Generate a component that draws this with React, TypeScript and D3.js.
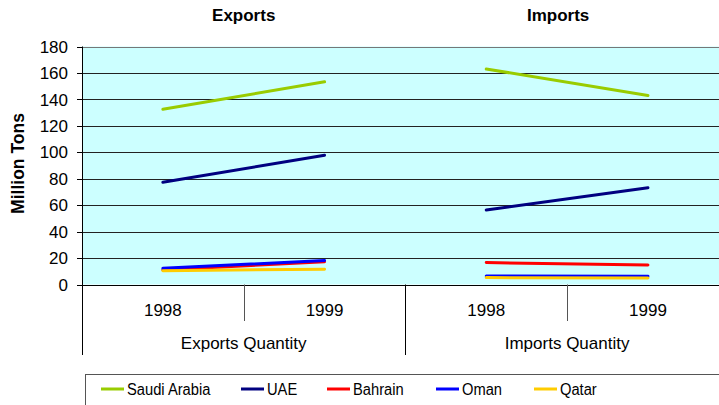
import React, { useEffect, useRef } from "react";
import * as d3 from "d3";

// categories along the x axis (group / year)
const groups = ["Exports Quantity", "Imports Quantity"];
const groupTitles = ["Exports", "Imports"];
const years = ["1998", "1999"];
const yTicks = [0, 20, 40, 60, 80, 100, 120, 140, 160, 180];

const seriesNames = ["Saudi Arabia", "UAE", "Bahrain", "Oman", "Qatar"];
const seriesColors = ["#99CC00", "#000080", "#FF0000", "#0000FF", "#FFCC00"];

// values: [exports 1998, exports 1999, imports 1998, imports 1999]
const saudiArabia = [132.5, 153.3, 163, 143];
const uae = [77.3, 97.8, 56.4, 73.2];
const bahrain = [11, 17.2, 16.6, 14.7];
const oman = [12.2, 18.2, 6.4, 6.2];
const qatar = [10.4, 11.6, 5.2, 5];

const seriesValues = [saudiArabia, uae, bahrain, oman, qatar];

const W = 719;
const H = 405;

const App = () => {
  const ref = useRef<SVGSVGElement>(null);

  useEffect(() => {
    const svg = d3.select(ref.current);
    svg.selectAll("*").remove();

    const font = "'Liberation Sans', Arial, sans-serif";
    const left = 82;
    const top = 46.5;
    const bottom = 284.5;
    const bandW = 161.7;

    const cats = groups.flatMap((g) => years.map((y) => g + "|" + y));
    const x = d3
      .scaleBand()
      .domain(cats)
      .range([left, left + bandW * cats.length]);
    const y = d3.scaleLinear().domain([0, 180]).range([bottom, top]);

    // plot background
    svg
      .append("rect")
      .attr("x", left)
      .attr("y", top)
      .attr("width", x.range()[1] - left)
      .attr("height", bottom - top)
      .attr("fill", "#CCFFFF");

    // gridlines
    svg
      .selectAll(".grid")
      .data(yTicks.filter((d) => d > 0))
      .enter()
      .append("line")
      .attr("x1", left)
      .attr("x2", x.range()[1])
      .attr("y1", (d) => Math.round(y(d)) + 0.5)
      .attr("y2", (d) => Math.round(y(d)) + 0.5)
      .attr("stroke", (d) => (d === 180 ? "#777" : "#222"))
      .attr("stroke-width", 1);

    // y axis
    svg
      .append("line")
      .attr("x1", left + 0.5)
      .attr("x2", left + 0.5)
      .attr("y1", top)
      .attr("y2", 355)
      .attr("stroke", "#000");
    svg
      .selectAll(".ytick")
      .data(yTicks)
      .enter()
      .append("line")
      .attr("x1", left - 5)
      .attr("x2", left)
      .attr("y1", (d) => Math.round(y(d)) + 0.5)
      .attr("y2", (d) => Math.round(y(d)) + 0.5)
      .attr("stroke", "#000");
    svg
      .selectAll(".ylab")
      .data(yTicks)
      .enter()
      .append("text")
      .attr("x", 68)
      .attr("y", (d) => y(d))
      .attr("dy", "0.36em")
      .attr("text-anchor", "end")
      .attr("font-family", font)
      .attr("font-size", 17)
      .attr("fill", "#000")
      .text((d) => d);

    svg
      .append("text")
      .attr("transform", `translate(24, ${(top + bottom) / 2 - 2}) rotate(-90)`)
      .attr("text-anchor", "middle")
      .attr("font-family", font)
      .attr("font-size", 17.5)
      .attr("font-weight", "bold")
      .text("Million Tons");

    // x axis
    svg
      .append("line")
      .attr("x1", left)
      .attr("x2", x.range()[1])
      .attr("y1", Math.round(bottom) + 0.5)
      .attr("y2", Math.round(bottom) + 0.5)
      .attr("stroke", "#000");

    cats.forEach((c, i) => {
      const x0 = x(c)!;
      if (i > 0) {
        const isGroup = i % years.length === 0;
        svg
          .append("line")
          .attr("x1", Math.round(x0) + 0.5)
          .attr("x2", Math.round(x0) + 0.5)
          .attr("y1", bottom)
          .attr("y2", isGroup ? 355 : 321)
          .attr("stroke", isGroup ? "#000" : "#555");
      }
      svg
        .append("text")
        .attr("x", x0 + x.bandwidth() / 2)
        .attr("y", 316)
        .attr("text-anchor", "middle")
        .attr("font-family", font)
        .attr("font-size", 17)
        .text(c.split("|")[1]);
    });

    groups.forEach((g, gi) => {
      const gx0 = x(g + "|" + years[0])!;
      const gx1 = x(g + "|" + years[years.length - 1])! + x.bandwidth();
      svg
        .append("text")
        .attr("x", (gx0 + gx1) / 2)
        .attr("y", 349)
        .attr("text-anchor", "middle")
        .attr("font-family", font)
        .attr("font-size", 17)
        .text(g);
      svg
        .append("text")
        .attr("x", gi === 0 ? (gx0 + gx1) / 2 : (gx0 + gx1) / 2 - 9)
        .attr("y", 21)
        .attr("text-anchor", "middle")
        .attr("font-family", font)
        .attr("font-size", 17)
        .attr("font-weight", "bold")
        .text(groupTitles[gi]);
    });

    // series lines, one segment per group
    seriesValues.forEach((vals, si) => {
      groups.forEach((g, gi) => {
        const pts = years.map((yr, yi) => ({
          cx: x(g + "|" + yr)! + x.bandwidth() / 2,
          v: vals[gi * years.length + yi],
        }));
        svg
          .append("path")
          .attr(
            "d",
            d3
              .line<{ cx: number; v: number }>()
              .x((d) => d.cx)
              .y((d) => y(d.v))(pts)
          )
          .attr("fill", "none")
          .attr("stroke", seriesColors[si])
          .attr("stroke-width", 3)
          .attr("stroke-linecap", "round");
      });
    });

    // legend
    svg
      .append("rect")
      .attr("x", 85.5)
      .attr("y", 374.5)
      .attr("width", 700)
      .attr("height", 60)
      .attr("fill", "#fff")
      .attr("stroke", "#555");

    const legendX = [101, 241, 327, 436, 534];
    seriesNames.forEach((name, i) => {
      const lg = svg.append("g").attr("transform", `translate(${legendX[i]}, 389)`);
      lg.append("line")
        .attr("x1", 0)
        .attr("x2", 23)
        .attr("y1", 0)
        .attr("y2", 0)
        .attr("stroke", seriesColors[i])
        .attr("stroke-width", 3);
      lg.append("text")
        .attr("x", 26)
        .attr("y", 0)
        .attr("dy", "0.36em")
        .attr("font-family", font)
        .attr("font-size", 16)
        .attr("transform", "scale(0.92,1)")
        .attr("transform-origin", "26 0")
        .text(name);
    });
  }, []);

  return (
    <svg
      ref={ref}
      width={W}
      height={H}
      style={{ position: "absolute", left: 0, top: 0, background: "#fff" }}
    />
  );
};

export default App;
